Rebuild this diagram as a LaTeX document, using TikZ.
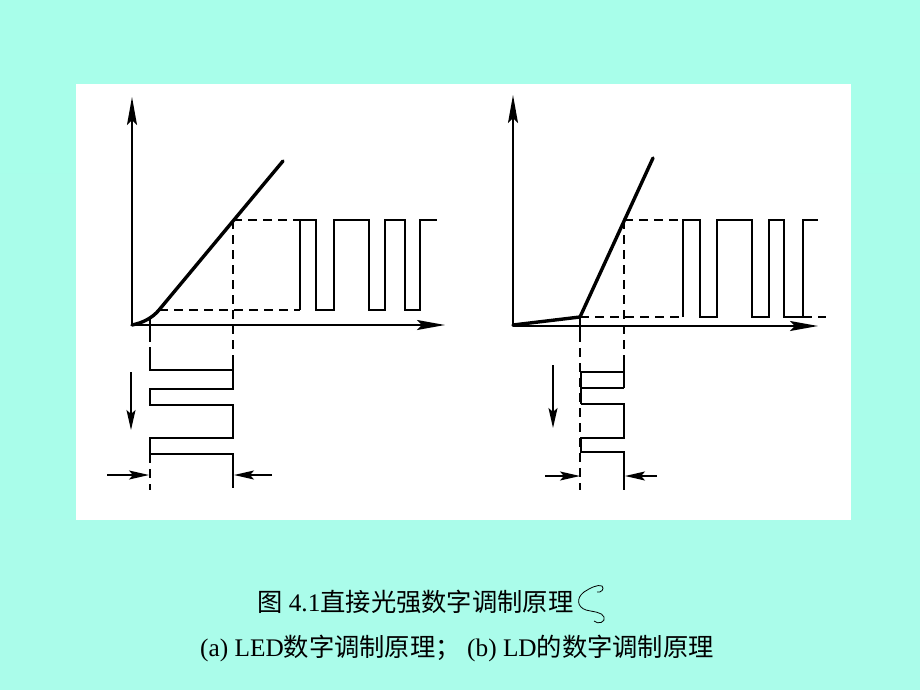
\documentclass[tikz,border=0pt]{standalone}
\usepackage{fontspec}
\setmainfont{Liberation Serif}
\newfontfamily\cjk{Noto Sans CJK SC}
\usetikzlibrary{arrows.meta}
\definecolor{bgtop}{RGB}{168,254,234}
\definecolor{bgmid}{RGB}{182,254,240}
\definecolor{bgbot}{RGB}{170,252,234}
\tikzset{
  axisline/.style={line width=1.7pt, line cap=round},
  axisarrow/.style={axisline, -{Stealth[length=28pt,width=10pt,inset=5pt]}},
  curveline/.style={line width=3.4pt, line cap=round, line join=round},
  waveline/.style={line width=2.8pt, line join=miter},
  dashline/.style={line width=1.9pt, dash pattern=on 9pt off 6pt},
  smallarrow/.style={line width=1.6pt, -{Stealth[length=20pt,width=9pt,inset=4pt]}},
  captext/.style={font=\fontsize{25.3}{29}\selectfont, inner sep=0pt},
}
\begin{document}
\begin{tikzpicture}[x=1pt,y=-1pt]
\useasboundingbox (0,0) rectangle (920,690);
\shade[top color=bgtop, middle color=bgmid, bottom color=bgbot] (0,0) rectangle (920,690);
\fill[white] (76,84) rectangle (851,520);

% ---------------- (a) LED ----------------
\coordinate (oa) at (132,325);
\coordinate (ya) at (132,97);
\coordinate (xa) at (445,325);
\coordinate (ka) at (159,310);
\coordinate (ea) at (283,161);
\coordinate (pa) at (233,220);
\draw[axisarrow] (oa) -- (ya);
\draw[axisarrow] (oa) -- (xa);
\draw[curveline] (oa) .. controls (142,323) and (152,318.4) .. (ka) -- (ea);
\draw[dashline] (ka) -- (300,310);
\draw[dashline] (pa) -- (300,220);
\draw[dashline] (pa) -- (233,363);
\draw[axisline] (150,318) -- (150,333);
\draw[dashline] (150,333) -- (150,347);
% output wave
\draw[waveline] (300,310) -- (300,220) -- (316,220) -- (316,310) -- (334,310) -- (334,220)
  -- (369,220) -- (369,310) -- (385,310) -- (385,220) -- (405,220) -- (405,310)
  -- (420,310) -- (420,220) -- (437,220);
% input wave
\draw[waveline] (150,347) -- (150,370) -- (233,370);
\draw[waveline] (233,363) -- (233,389) -- (150,389) -- (150,405) -- (233,405) -- (233,438)
  -- (150,438) -- (150,454) -- (233,454) -- (233,488);
\draw[dashline] (150,454) -- (150,490);
\draw[smallarrow] (131,372) -- (131,430);
\coordinate (la1) at (107,475);
\coordinate (la2) at (149,475);
\coordinate (la3) at (272,475);
\coordinate (la4) at (234,475);
\draw[smallarrow] (la1) -- (la2);
\draw[smallarrow] (la3) -- (la4);

% ---------------- (b) LD ----------------
\coordinate (ob) at (513,325);
\coordinate (yb) at (513,95);
\coordinate (xb) at (818,326);
\coordinate (kb) at (580,317);
\coordinate (eb) at (653,158);
\coordinate (pb) at (624,220);
\draw[axisarrow] (ob) -- (yb);
\draw[axisarrow] (513,326) -- (xb);
\draw[curveline] (ob) -- (kb) -- (eb);
\draw[dashline] (kb) -- (683,317);
\draw[dashline] (pb) -- (683,220);
\draw[dashline] (pb) -- (624,358);
\draw[dashline] (803,317) -- (826,317);
\draw[axisline] (580,317) -- (580,333);
\draw[dashline] (580,333) -- (580,490);
% output wave
\draw[waveline] (683,317) -- (683,220) -- (700,220) -- (700,317) -- (717,317) -- (717,220)
  -- (752,220) -- (752,317) -- (769,317) -- (769,220) -- (784,220) -- (784,317)
  -- (803,317) -- (803,220) -- (818,220);
% input wave
\draw[waveline] (624,358) -- (624,388);
\draw[waveline] (624,372) -- (581,372) -- (581,404);
\draw[waveline] (581,388) -- (624,388);
\draw[waveline] (581,404) -- (624,404) -- (624,438) -- (581,438) -- (581,452) -- (624,452) -- (624,490);
\draw[smallarrow] (553,365) -- (553,428);
\coordinate (lb1) at (545,476);
\coordinate (lb2) at (580,476);
\coordinate (lb3) at (657,476);
\coordinate (lb4) at (625,476);
\draw[smallarrow] (lb1) -- (lb2);
\draw[smallarrow] (lb3) -- (lb4);

% ---------------- caption ----------------
\node[captext, anchor=west] (cap1) at (257,602) {{\cjk 图} 4.1{\cjk 直接光强数字调制原理}};
\draw[line width=0.8pt] (597,592) .. controls (601,593) and (605,589) .. (602,586)
  .. controls (598,584) and (590,588) .. (584,592)
  .. controls (576,598) and (577,607) .. (586,610)
  .. controls (594,612) and (602,612) .. (604,617)
  .. controls (606,622) and (598,625) .. (594,621);
\node[captext, anchor=west] (cap2) at (200,648) {(a) LED{\cjk 数字调制原理；} (b) LD{\cjk 的数字调制原理}};
\end{tikzpicture}
\end{document}
